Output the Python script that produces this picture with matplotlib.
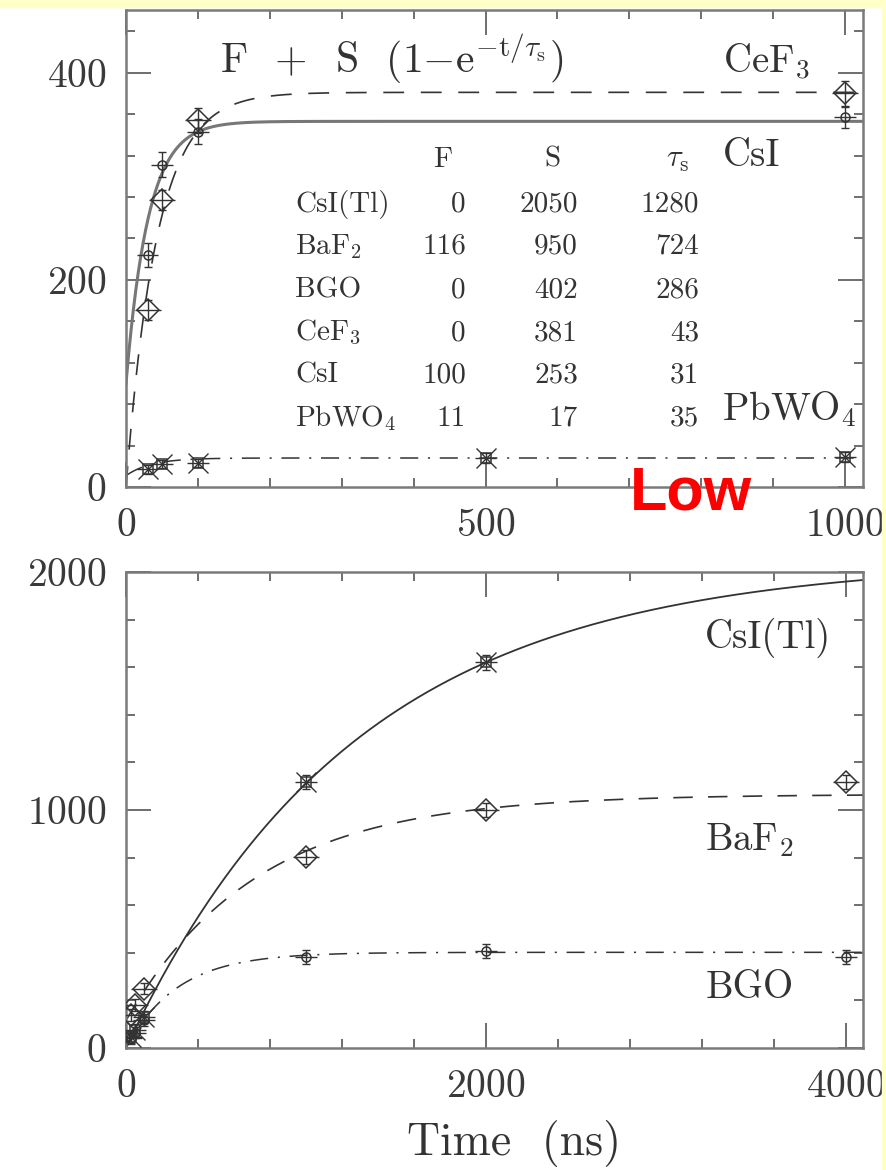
import matplotlib
matplotlib.use("Agg")
import matplotlib.pyplot as plt
import numpy as np
from matplotlib.ticker import MultipleLocator
from matplotlib.patches import Rectangle

plt.rcParams['font.family'] = 'cmr10'
plt.rcParams['mathtext.fontset'] = 'cm'
plt.rcParams['axes.unicode_minus'] = False
plt.rcParams['axes.formatter.use_mathtext'] = True
plt.rcParams['lines.scale_dashes'] = False

# fit results F + S(1 - exp(-t/tau_s))
crystals = ['CsI(Tl)', 'BaF$_2$', 'BGO', 'CeF$_3$', 'CsI', 'PbWO$_4$']
fit_F = [0, 116, 0, 0, 100, 11]
fit_S = [2050, 950, 402, 381, 253, 17]
fit_tau = [1280, 724, 286, 43, 31, 35]

# measured points, upper panel (gate up to 1000 ns)
cef3_t = [30, 50, 100, 1000]
cef3_y = [171, 277, 354, 380]
cef3_err = [10, 10, 12, 12]
csi_t = [30, 50, 100, 1000]
csi_y = [224, 311, 343, 357]
csi_err = [12, 12, 12, 10]
pbwo4_t = [30, 50, 100, 500, 1000]
pbwo4_y = [17, 22, 23, 28, 29]
pbwo4_err = [4, 4, 4, 5, 5]

# lower panel (gate up to 4000 ns)
csitl_t = [30, 50, 100, 1000, 2000]
csitl_y = [45, 75, 130, 1118, 1620]
csitl_err = [25, 25, 25, 30, 30]
baf2_t = [30, 50, 100, 1000, 2000, 4000]
baf2_y = [140, 180, 250, 802, 1000, 1118]
baf2_err = [25, 25, 25, 30, 30, 30]
bgo_t = [30, 50, 100, 1000, 2000, 4000]
bgo_y = [40, 65, 118, 382, 408, 382]
bgo_err = [25, 25, 25, 30, 30, 30]


def fit(t, i):
    return fit_F[i] + fit_S[i] * (1 - np.exp(-t / fit_tau[i]))


W, H = 887, 1170
fig = plt.figure(figsize=(W / 100, H / 100), dpi=100)
fig.patch.set_facecolor('white')


def fx(x):
    return x / W


def fy(y):
    return 1 - y / H


# yellow slide border
fig.patches.append(Rectangle((0, fy(7)), 1, 1 - fy(7), transform=fig.transFigure,
                             color='#FFFFC8', zorder=0))
fig.patches.append(Rectangle((fx(882), 0), 1 - fx(882), 1, transform=fig.transFigure,
                             color='#FFFFC8', zorder=0))

ax1 = fig.add_axes([fx(126), fy(487), fx(863) - fx(126), fy(10) - fy(487)])
ax2 = fig.add_axes([fx(126), fy(1048), fx(863) - fx(126), fy(572) - fy(1048)])

INK = '#333333'


def style(ax, xmaj, xmin, ymaj, ymin):
    for s in ax.spines.values():
        s.set_color('#7a7a7a')
        s.set_linewidth(1.8)
    ax.xaxis.set_major_locator(MultipleLocator(xmaj))
    ax.xaxis.set_minor_locator(MultipleLocator(xmin))
    ax.yaxis.set_major_locator(MultipleLocator(ymaj))
    ax.yaxis.set_minor_locator(MultipleLocator(ymin))
    ax.tick_params(which='both', direction='in', top=True, right=True,
                   color='#555555', labelcolor='#3a3a3a', labelsize=28.5, width=1.2)
    ax.tick_params(which='major', length=18)
    ax.tick_params(which='minor', length=6.5)
    ax.tick_params(axis='x', pad=15)
    ax.tick_params(axis='y', pad=14)


def points(ax, t, y, err, xerr, kind):
    # vertical bars with small caps, horizontal bars without
    ax.errorbar(t, y, yerr=err, fmt='none', ecolor=INK,
                elinewidth=1.0, capsize=3, zorder=4)
    ax.errorbar(t, y, xerr=xerr, fmt='none', ecolor=INK,
                elinewidth=1.0, capsize=0, zorder=4)
    if kind == 'diamond':
        ax.plot(t, y, 'D', mfc='none', mec=INK, ms=11, mew=1.1, zorder=5)
    elif kind == 'circle':
        ax.plot(t, y, 'o', mfc='none', mec=INK, ms=6.5, mew=1.1, zorder=5)
    else:
        ax.plot(t, y, 's', mfc='none', mec=INK, ms=7, mew=1.1, zorder=5)
        ax.plot(t, y, 'x', mec=INK, ms=15, mew=1.0, zorder=5)


# ---- upper panel ----
tt = np.linspace(0, 1025, 600)
ax1.plot(tt, fit(tt, 3), color=INK, lw=1.2, dashes=(15, 12))
ax1.plot(tt, fit(tt, 4), color='#777777', lw=2.2)
ax1.plot(tt, fit(tt, 5), color=INK, lw=1.1, dashes=(13, 7, 1.5, 7))
points(ax1, cef3_t, cef3_y, cef3_err, 18, 'diamond')
points(ax1, csi_t, csi_y, csi_err, 15, 'circle')
points(ax1, pbwo4_t, pbwo4_y, pbwo4_err, 15, 'square')
ax1.set_xlim(0, 1025)
ax1.set_ylim(0, 460.5)
style(ax1, 500, 100, 200, 40)

# ---- lower panel ----
tb = np.linspace(0, 4095, 800)
ax2.plot(tb, fit(tb, 0), color=INK, lw=1.3)
ax2.plot(tb, fit(tb, 1), color=INK, lw=1.2, dashes=(14, 11))
ax2.plot(tb, fit(tb, 2), color=INK, lw=1.1, dashes=(13, 7, 1.5, 7))
points(ax2, csitl_t, csitl_y, csitl_err, 60, 'square')
points(ax2, baf2_t, baf2_y, baf2_err, 70, 'diamond')
points(ax2, bgo_t, bgo_y, bgo_err, 60, 'circle')
ax2.set_xlim(0, 4095)
ax2.set_ylim(0, 2000)
style(ax2, 2000, 400, 1000, 200)


def ftext(x, y, s, size, **kw):
    fig.text(fx(x), fy(y), s, fontsize=size, color=INK, va='baseline', **kw)


# formula and fit table
ftext(220, 73, r'F  +  S  (1$-$e$^{-\mathrm{t}/\tau_\mathrm{s}}$)', 30)
ftext(443, 167, 'F', 21, ha='center')
ftext(552, 167, 'S', 21, ha='center')
ftext(678, 167, r'$\tau_\mathrm{s}$', 22, ha='center')
row_y = [212, 254, 297, 340, 383, 426]
for name, F, S, tau, y in zip(crystals, fit_F, fit_S, fit_tau, row_y):
    ftext(295, y, name, 21)
    ftext(466, y, str(F), 21, ha='right')
    ftext(578, y, str(S), 21, ha='right')
    ftext(699, y, str(tau), 21, ha='right')

# curve labels
ftext(723, 73, 'CeF$_3$', 28)
ftext(723, 166, 'CsI', 28)
ftext(722, 420, 'PbWO$_4$', 28)
ftext(705, 648, 'CsI(Tl)', 28)
ftext(705, 850, 'BaF$_2$', 28)
ftext(706, 998, 'BGO', 28)
ftext(514, 1155, 'Time  (ns)', 33, ha='center')

fig.text(fx(630), fy(510), 'Low', fontsize=44, color='#FF0000',
         family='Liberation Sans', weight='bold', va='baseline')

fig.savefig('out.png', dpi=100, facecolor=fig.get_facecolor())
